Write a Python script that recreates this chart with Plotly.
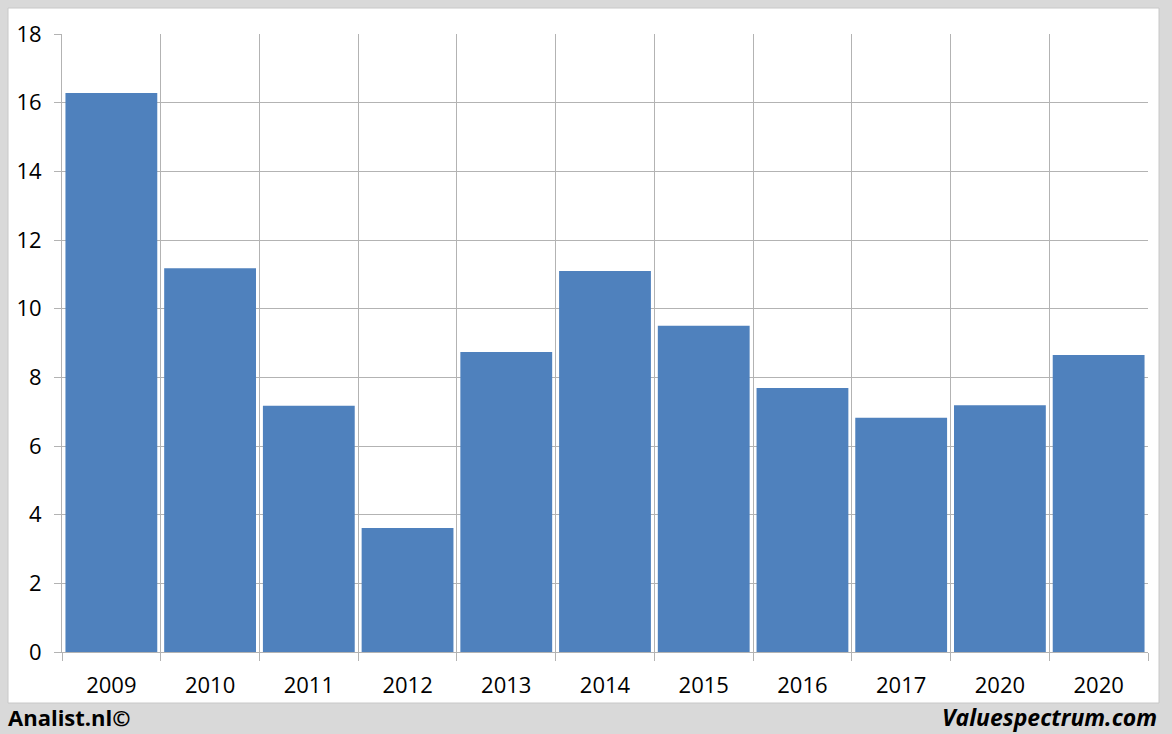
import plotly.graph_objects as go

years = ["2009", "2010", "2011", "2012", "2013", "2014", "2015", "2016", "2017", "2020", "2020"]
values = [16.28, 11.18, 7.17, 3.61, 8.74, 11.1, 9.5, 7.69, 6.82, 7.19, 8.65]
y_ticks = [0, 2, 4, 6, 8, 10, 12, 14, 16, 18]

W, H = 1172, 734
L, R, T, B = 62, 1148, 34, 652
pw, ph = R - L, B - T

def px_x(p):
    return (p - L) / pw

def px_y(p):
    return (B - p) / ph

pos = list(range(len(years)))

fig = go.Figure(go.Bar(
    x=pos, y=values, marker=dict(color="#4f81bd", line=dict(width=0)),
    width=0.93, hoverinfo="y"
))

grid = "#b3b3b3"
fig.update_layout(
    width=W, height=H,
    margin=dict(l=L, r=W - R, t=T, b=H - B),
    paper_bgcolor="#d9d9d9",
    plot_bgcolor="white",
    showlegend=False,
    font=dict(family="Open Sans, Liberation Sans, sans-serif", size=22, color="#000"),
    xaxis=dict(
        range=[-0.5, len(years) - 0.5],
        tickvals=pos, ticktext=years,
        showgrid=False, ticks="", zeroline=False,
        showline=True, linecolor=grid, linewidth=1,
        tickfont=dict(size=22), ticklabelstandoff=14,
        minor=dict(tickvals=[i - 0.5 for i in range(len(years) + 1)],
                   showgrid=True, gridcolor=grid, gridwidth=1,
                   ticks="outside", ticklen=8, tickcolor=grid, tickwidth=1),
        fixedrange=True,
    ),
    yaxis=dict(
        range=[0, 18], tickvals=y_ticks,
        showgrid=True, gridcolor=grid, gridwidth=1,
        ticks="outside", ticklen=7, tickcolor=grid,
        showline=True, linecolor=grid, linewidth=1,
        zeroline=False, tickfont=dict(size=22), ticklabelstandoff=8,
        fixedrange=True,
    ),
    shapes=[dict(
        type="rect", xref="paper", yref="paper", layer="below",
        x0=px_x(8), x1=px_x(1159), y0=px_y(703), y1=px_y(8),
        fillcolor="white", line=dict(color="#c8c8c8", width=1),
    )],
    annotations=[
        dict(text="<b>Analist.nl©</b>", xref="paper", yref="paper",
             x=px_x(6), y=px_y(717), xanchor="left", yanchor="middle",
             showarrow=False, font=dict(size=22, color="#000")),
        dict(text="<b><i>Valuespectrum.com</i></b>", xref="paper", yref="paper",
             x=px_x(1159), y=px_y(717), xanchor="right", yanchor="middle",
             showarrow=False, font=dict(size=23, color="#000")),
    ],
)

fig.write_html("out.html", config={"displayModeBar": False},
               post_script="document.body.style.margin='0';")
